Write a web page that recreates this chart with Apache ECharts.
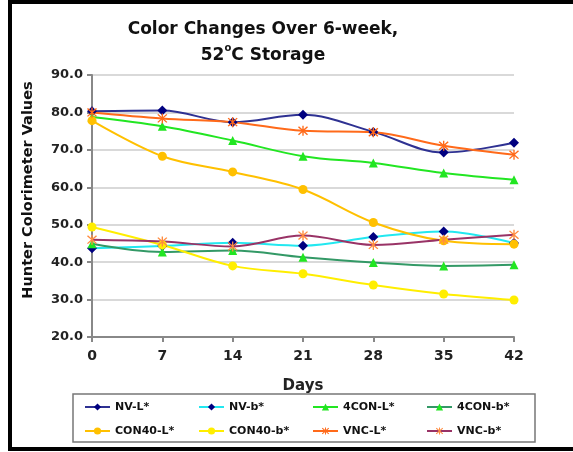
<!DOCTYPE html>
<html><head><meta charset="utf-8">
<script src="https://cdn.jsdelivr.net/npm/echarts@6/dist/echarts.min.js"></script>
<style>html,body{margin:0;padding:0;background:#fff}#c{width:573px;height:452px}</style>
</head><body><div id="c"></div>
<script>
const days = ['0','7','14','21','28','35','42'];
const yTicks = [20, 90, 10];
const nvL     = [80.3, 80.5, 77.4, 79.4, 74.8, 69.3, 71.9];
const nvB     = [43.7, 44.3, 45.2, 44.4, 46.7, 48.2, 45.1];
const con4L   = [78.8, 76.3, 72.5, 68.3, 66.5, 63.8, 62.0];
const con4B   = [44.9, 42.7, 43.1, 41.3, 39.9, 39.0, 39.3];
const con40L  = [77.8, 68.3, 64.1, 59.4, 50.6, 45.7, 44.8];
const con40B  = [49.4, 44.6, 39.0, 36.9, 33.9, 31.5, 29.9];
const vncL    = [80.0, 78.4, 77.4, 75.1, 74.7, 71.1, 68.7];
const vncB    = [46.0, 45.5, 44.2, 47.1, 44.6, 46.0, 47.3];
const names = ['NV-L*','NV-b*','4CON-L*','4CON-b*','CON40-L*','CON40-b*','VNC-L*','VNC-b*'];

const FONT = 'DejaVu Sans';
const asterisk = 'path://M4.4 0h1.2v10h-1.2z M0.6 1.45L1.45 0.6L9.4 8.55L8.55 9.4Z M8.55 0.6L9.4 1.45L1.45 9.4L0.6 8.55Z';

function mk(name, data, lineColor, markColor, symbol, size){
  return {
    name, type:'line', data, smooth:0.35, symbol, symbolSize:size,
    lineStyle:{color:lineColor, width:2},
    itemStyle:{color:markColor},
    emphasis:{disabled:true}, z: 3
  };
}

const chart = echarts.init(document.getElementById('c'));
chart.setOption({
  animation:false,
  backgroundColor:'#fff',
  title:{
    text:'Color Changes Over 6-week,\n52{sup|o}C Storage',
    left:263, top:17, padding:0, textAlign:'center',
    textStyle:{fontFamily:FONT, fontWeight:'bold', fontSize:17, lineHeight:26, color:'#111',
      rich:{sup:{fontFamily:FONT, fontWeight:'bold', fontSize:10, verticalAlign:'top', lineHeight:14, color:'#111'}}}
  },
  grid:{left:92, right:59, top:75, bottom:115},
  xAxis:{
    type:'category', data:days, boundaryGap:false,
    axisLine:{lineStyle:{color:'#888', width:2}},
    axisTick:{show:true, inside:false, length:5, lineStyle:{color:'#888', width:2}},
    axisLabel:{fontFamily:FONT, fontWeight:'bold', fontSize:14, color:'#222', margin:12},
    name:'Days', nameLocation:'middle', nameGap:42,
    nameTextStyle:{fontFamily:FONT, fontWeight:'bold', fontSize:15, color:'#222'}
  },
  yAxis:{
    type:'value', min:yTicks[0], max:yTicks[1], interval:yTicks[2],
    axisLine:{show:true, lineStyle:{color:'#888', width:2}},
    axisTick:{show:true, length:5, lineStyle:{color:'#888', width:2}},
    splitLine:{lineStyle:{color:'#d9d9d9', width:2}},
    axisLabel:{fontFamily:FONT, fontWeight:'bold', fontSize:13, color:'#222', margin:9,
      formatter:v=>v.toFixed(1)}
  },
  legend:{
    data:names, left:84, top:400, width:460, itemGap:10, padding:0,
    itemWidth:25, itemHeight:9,
    textStyle:{fontFamily:FONT, fontWeight:'bold', fontSize:11, color:'#111', width:73, lineHeight:14}
  },
  graphic:[
    {type:'rect', shape:{x:73, y:394, width:462, height:48}, style:{fill:'none', stroke:'#777', lineWidth:1.5}, z:1},
    {type:'rect', shape:{x:10, y:2, width:620, height:447}, style:{fill:'none', stroke:'#000', lineWidth:4}, z:10},
    {type:'text', x:28, y:190, rotation:Math.PI/2,
      style:{text:'Hunter Colorimeter Values', fontFamily:FONT, fontWeight:'bold', fontSize:14.5, fill:'#111', align:'center', verticalAlign:'middle'}}
  ],
  series:[
    mk(names[0], nvL, '#2E3192', '#000080', 'diamond', 10),
    mk(names[1], nvB, '#22E8F0', '#000080', 'diamond', 10),
    mk(names[2], con4L, '#22E622', '#22E622', 'triangle', 9),
    mk(names[3], con4B, '#339966', '#22E622', 'triangle', 9),
    mk(names[4], con40L, '#FFC000', '#FFC000', 'circle', 9),
    mk(names[5], con40B, '#FFEE00', '#FFEE00', 'circle', 9),
    mk(names[6], vncL, '#FF6A1A', '#FF6A1A', asterisk, 10),
    mk(names[7], vncB, '#993366', '#FF8C40', asterisk, 10)
  ]
});
</script></body></html>
